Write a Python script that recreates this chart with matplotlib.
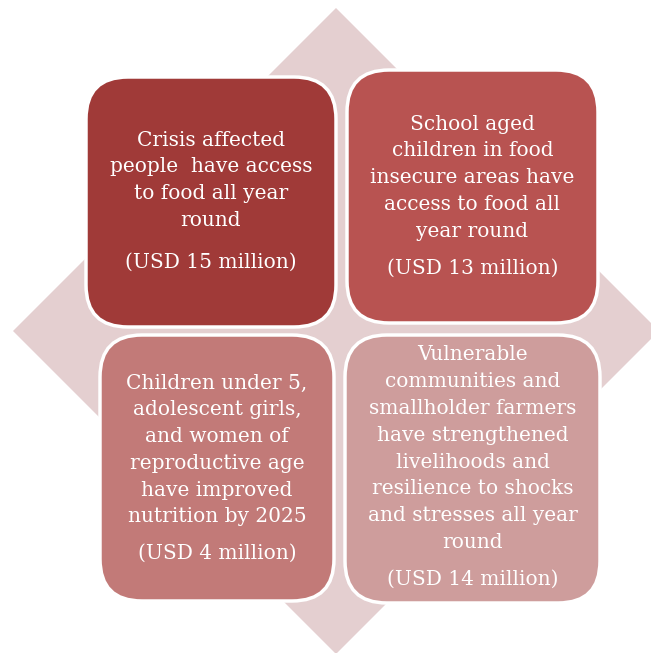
import matplotlib
matplotlib.use("Agg")
import matplotlib.pyplot as plt
from matplotlib.patches import FancyBboxPatch, Polygon

# box texts (top-left, top-right, bottom-left, bottom-right)
outcomes = [
    ["Crisis affected", "people  have access", "to food all year", "round"],
    ["School aged", "children in food", "insecure areas have", "access to food all", "year round"],
    ["Children under 5,", "adolescent girls,", "and women of", "reproductive age",
     "have improved", "nutrition by 2025"],
    ["Vulnerable", "communities and", "smallholder farmers", "have strengthened",
     "livelihoods and", "resilience to shocks", "and stresses all year", "round"],
]
budgets_musd = [15, 13, 4, 14]
box_colors = ["#A03A38", "#B85351", "#C27A78", "#CE9D9C"]

# box geometry in pixels: x0, y0, x1, y1
boxes = [(86, 77, 336, 327), (347, 70, 598, 323),
         (100, 335, 334, 601), (345, 335, 600, 603)]
# first text line y and usd line y
text_y = [[140, 262], [124, 268], [383, 553], [355, 579]]
line_step = 26.8

W, H = 651, 653
fig = plt.figure(figsize=(W / 100, H / 100), dpi=100)
ax = fig.add_axes([0, 0, 1, 1])
ax.set_xlim(0, W)
ax.set_ylim(H, 0)
ax.axis("off")

# background diamond
cx, cy, r = 336, 331, 323
ax.add_patch(Polygon([(cx, cy - r), (cx + r, cy), (cx, cy + r), (cx - r, cy)],
                     closed=True, facecolor="#E4CFD0", edgecolor="none"))

font = "DejaVu Serif"
fs = 14.5
for i, (x0, y0, x1, y1) in enumerate(boxes):
    rad = 42
    ax.add_patch(FancyBboxPatch((x0 + rad, y0 + rad), (x1 - x0) - 2 * rad, (y1 - y0) - 2 * rad,
                                boxstyle="round,pad=%d" % rad, facecolor=box_colors[i],
                                edgecolor="white", linewidth=2.5))
    xc = (x0 + x1) / 2
    for k, line in enumerate(outcomes[i]):
        ax.text(xc, text_y[i][0] + k * line_step, line, ha="center", va="center",
                color="white", fontsize=fs, family=font)
    ax.text(xc, text_y[i][1], "(USD %d million)" % budgets_musd[i], ha="center", va="center",
            color="white", fontsize=fs, family=font)

fig.savefig("out.png", dpi=100)
